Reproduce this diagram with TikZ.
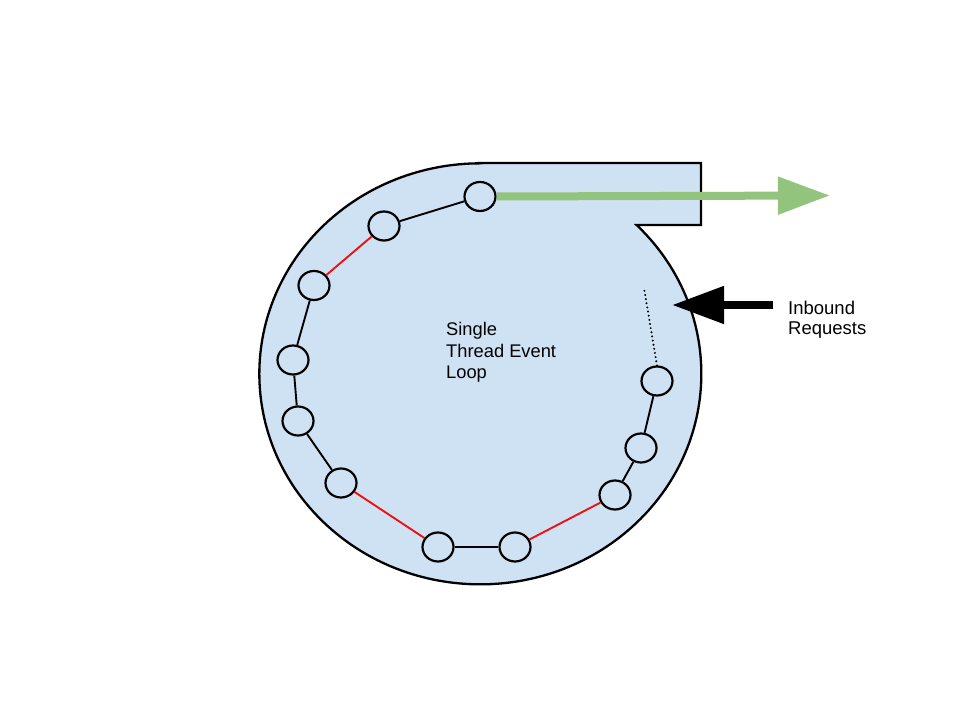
\documentclass[tikz,border=0pt]{standalone}
\usepackage{fontspec}
\setmainfont{Liberation Sans}
\usetikzlibrary{shapes.geometric,arrows.meta}
\definecolor{loopfill}{HTML}{CFE2F3}
\definecolor{outgreen}{HTML}{93C47D}
\definecolor{redline}{HTML}{EE1111}
\begin{document}
\begin{tikzpicture}[x=1pt,y=1pt,
  evt/.style={ellipse,draw=black,line width=2.2pt,fill=loopfill,minimum width=31pt,minimum height=29pt,inner sep=0pt},
  blk/.style={draw=black,line width=1.9pt},
  red/.style={draw=redline,line width=1.9pt},
  label/.style={font=\fontsize{18.5}{20}\selectfont,align=left,inner sep=0pt,anchor=north west},
  fat/.style={line width=8pt,-{Triangle[length=52pt,width=36pt]}}
]
\useasboundingbox (0,0) rectangle (960,720);
\fill[white] (0,0) rectangle (960,720);
% main loop shape
\draw[line width=2.3pt,fill=loopfill,line join=miter]
  (480,557) -- (701,557) -- (701,495) -- (636.6,495)
  arc[start angle=45,end angle=-270,x radius=221,y radius=210.5] -- cycle;
% event nodes
\node[evt] (c1) at (480,523.5) {};
\node[evt] (c2) at (384,494) {};
\node[evt] (c3) at (314,434.5) {};
\node[evt] (c4) at (293,360) {};
\node[evt] (c5) at (298,299) {};
\node[evt] (c6) at (341,237) {};
\node[evt] (c7) at (438,173) {};
\node[evt] (c8) at (515,173) {};
\node[evt] (c9) at (615,225) {};
\node[evt] (c10) at (641,272) {};
\node[evt] (c11) at (657,339) {};
% connectors
\draw[blk] (c1) -- (c2);
\draw[red] (c2) -- (c3);
\draw[blk] (c3) -- (c4);
\draw[blk] (c4) -- (c5);
\draw[blk] (c5) -- (c6);
\draw[red] (c6) -- (c7);
\draw[blk] (c7) -- (c8);
\draw[red] (c8) -- (c9);
\draw[blk] (c9) -- (c10);
\draw[blk] (c10) -- (c11);
% dotted continuation
\coordinate (dtop) at (644,432);
\draw[line width=2.2pt,line cap=round,dash pattern=on 0pt off 4.2pt] (c11.north) -- (dtop);
% outbound green arrow
\coordinate (gout) at (830,524.5);
\draw[outgreen,fat] (c1.east) -- (gout);
% inbound black arrow
\coordinate (inTail) at (773,415);
\coordinate (inTip) at (672,415);
\draw[black,fat] (inTail) -- (inTip);
% texts
\node[label] (inb) at (788,419) {Inbound\\Requests};
\node[label,font=\fontsize{18.3}{21.7}\selectfont] (stel) at (446,398) {Single\\Thread Event\\Loop};
\end{tikzpicture}
\end{document}
